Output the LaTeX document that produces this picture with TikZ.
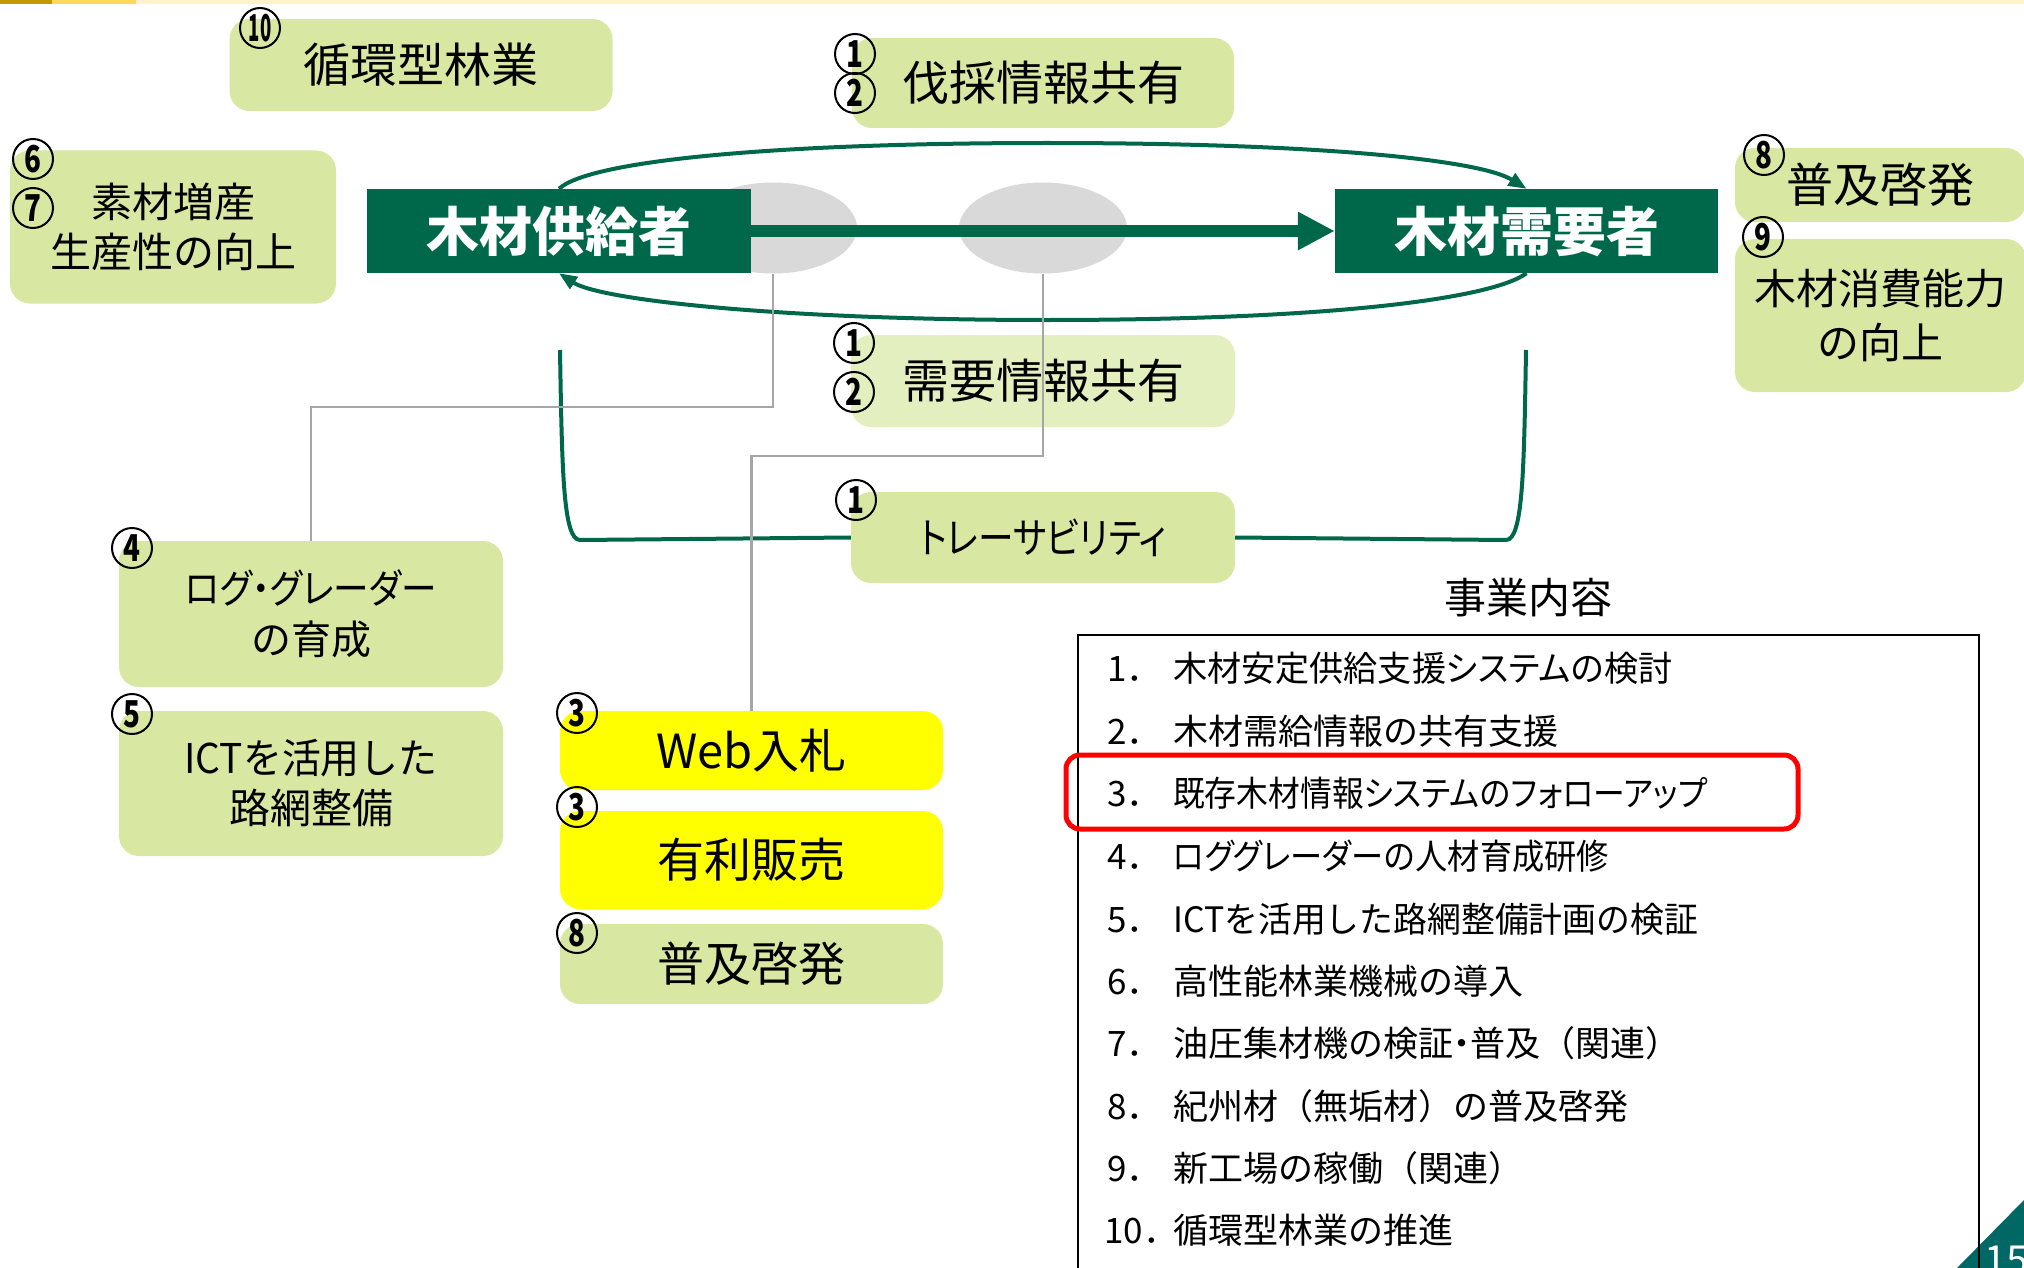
\documentclass[tikz,border=0pt]{standalone}
\usepackage{fontspec}
\usepackage{graphicx}
\setmainfont{Noto Sans CJK JP}
\newfontfamily\jpp[RawFeature=+palt]{Noto Sans CJK JP}
\usetikzlibrary{arrows.meta,shapes.geometric}
\definecolor{dg}{RGB}{0,104,74}
\definecolor{boxg}{RGB}{216,231,161}
\definecolor{boxl}{RGB}{227,239,190}
\definecolor{lgrey}{RGB}{217,217,217}
\definecolor{lineg}{RGB}{166,166,166}
\definecolor{teal2}{RGB}{0,104,100}
\definecolor{gold1}{RGB}{196,152,0}
\definecolor{gold2}{RGB}{255,216,92}
\definecolor{gold3}{RGB}{255,242,204}
\definecolor{yel}{RGB}{255,255,0}
\newcommand{\cnum}[2][0.75]{\scalebox{#1}[1]{#2}}
\begin{document}
\begin{tikzpicture}[x=1pt,y=-1pt]
\tikzset{
  gb/.style={fill=boxg, rounded corners=20, inner sep=0, align=center, text=black},
  yb/.style={gb, fill=yel},
  hdr/.style={fill=dg, inner sep=0, text=white, font=\fontsize{53}{60}\selectfont\bfseries},
  cn/.style={circle, draw=black, line width=2, minimum size=40, inner sep=0, font=\fontsize{37}{37}\selectfont\bfseries},
  arcline/.style={draw=dg, line width=4},
  greyline/.style={draw=lineg, line width=2.5},
  fbig/.style={font=\fontsize{47}{56}\selectfont},
  fmid/.style={font=\fontsize{41}{50}\selectfont},
  litem/.style={anchor=base west, inner sep=0, font=\fontsize{35}{40}\selectfont},
}
\useasboundingbox (0,0) rectangle (2024,1268);
\clip (0,0) rectangle (2024,1268);
\fill[white] (0,0) rectangle (2024,1268);
% top bar
\fill[gold3] (136,0) rectangle (2024,4);
\fill[gold2] (52,0) rectangle (136,4);
\fill[gold1] (0,0) rectangle (52,4);

% grey ellipses
\node[ellipse, fill=lgrey, minimum width=168, minimum height=91, inner sep=0] (e1) at (773,228) {};
\node[ellipse, fill=lgrey, minimum width=168, minimum height=91, inner sep=0] (e2) at (1043,228) {};

% header boxes
\node[hdr, minimum width=384, minimum height=84] (sup) at (559,231) {木材供給者};
\node[hdr, minimum width=383, minimum height=84] (dem) at (1526.5,231) {木材需要者};

% main arrow
\draw[dg, line width=12, -{Triangle[length=37pt,width=36pt]}] (sup.east) -- (dem.west);

% arcs
\draw[arcline, -{Triangle[length=18pt,width=14pt]}] (sup.north) .. controls (590,160) and (780,143) .. (1047,143) .. controls (1320,143) and (1480,160) .. (dem.north);
\draw[arcline, -{Triangle[length=18pt,width=14pt]}] (dem.south) .. controls (1490,300) and (1320,320) .. (1047,320) .. controls (780,320) and (600,300) .. (sup.south);

% green boxes
\node[gb, fbig, minimum width=383, minimum height=92] (jun) at (421,65) {循環型林業};
\node[gb, fmid, minimum width=326, minimum height=153] (sozai) at (173,227) {素材増産\\生産性の向上};
\node[gb, fbig, minimum width=382, minimum height=90] (bassai) at (1043,83) {伐採情報共有};
\node[gb, fbig, fill=boxl, minimum width=384, minimum height=92] (juyo) at (1043,381) {需要情報共有};
\node[gb, font=\fontsize{42}{50}\selectfont\jpp, minimum width=384, minimum height=91] (trace) at (1043,537.5) {\scalebox{0.85}[1]{トレーサビリティ}};
\node[gb, fbig, minimum width=291, minimum height=74] (fukyu) at (1880.5,185) {普及啓発};
\node[gb, font=\fontsize{42}{54}\selectfont, minimum width=291, minimum height=153] (shohi) at (1880.5,315.5) {木材消費能力\\の向上};
\node[gb, font=\fontsize{40}{51}\selectfont, minimum width=384, minimum height=146] (log) at (311,614) {{\jpp\scalebox{0.89}[1]{ログ・グレーダー}}\\の育成};
\node[gb, fmid, minimum width=384, minimum height=145] (ict) at (311,783.5) {\scalebox{0.95}[1]{ICTを活用した}\\路網整備};
\node[yb, fbig, minimum width=383, minimum height=79] (web) at (751.5,750.5) {Web入札};
\node[yb, fbig, minimum width=383, minimum height=98] (yuri) at (751.5,860) {有利販売};
\node[gb, fbig, minimum width=383, minimum height=80] (fukyu2) at (751.5,964) {普及啓発};

% green bracket
\coordinate (bl) at (560,350);
\coordinate (br) at (1526,350);
\draw[arcline] (bl) .. controls (562,470) and (563,540) .. (580,540) -- (trace.west);
\draw[arcline] (trace.east) -- (1506,540) .. controls (1523,540) and (1524,470) .. (br);

% grey connectors
\coordinate (g1) at (311,407);
\coordinate (g2) at (751.5,456);
\draw[greyline] (e1.south) |- (g1) -- (log.north);
\draw[greyline] (e2.south) |- (g2) -- (web.north);

% circled numbers
\node[cn] (c10) at (260,28) {\cnum[0.5]{10}};
\node[cn] (c6) at (33,159) {\cnum{6}};
\node[cn] (c7) at (33,208) {\cnum{7}};
\node[cn] (c1a) at (855,54) {\cnum{1}};
\node[cn] (c2a) at (855,93) {\cnum{2}};
\node[cn] (c1b) at (854,343) {\cnum{1}};
\node[cn] (c2b) at (854,392) {\cnum{2}};
\node[cn] (c1c) at (856,500) {\cnum{1}};
\node[cn] (c8a) at (1764,155) {\cnum{8}};
\node[cn] (c9) at (1763,237) {\cnum{9}};
\node[cn] (c4) at (132,548) {\cnum{4}};
\node[cn] (c5) at (132,714) {\cnum{5}};
\node[cn] (c3a) at (577,713) {\cnum{3}};
\node[cn] (c3b) at (577,807) {\cnum{3}};
\node[cn] (c8b) at (577,933) {\cnum{8}};

% page number
\fill[teal2] (1957,1268) -- (2024,1200) -- (2024,1268) -- cycle;
\node[anchor=base west, text=white, inner sep=0, font=\fontsize{40}{40}\selectfont] (pg) at (1984,1274) {15};

% list
\node[font=\fontsize{42}{42}\selectfont, inner sep=0] (title) at (1528,598) {事業内容};
\draw[line width=2.5, black] (1078,635) rectangle (1979,1300);
\draw[red, line width=5, rounded corners=14] (1066,755) rectangle (1798,829);

\node[litem] (n1) at (1107,681) {1．};
\node[litem] (t1) at (1173,681) {\scalebox{0.975}[1]{木材安定供給支援{\jpp システム}の検討}};
\node[litem] (n2) at (1107,744) {2．};
\node[litem] (t2) at (1173,744) {木材需給情報の共有支援};
\node[litem] (n3) at (1107,806) {3．};
\node[litem] (t3) at (1173,806) {\scalebox{0.908}[1]{既存木材情報{\jpp システム}の{\jpp フォローアップ}}};
\node[litem] (n4) at (1107,869) {4．};
\node[litem] (t4) at (1173,869) {\scalebox{0.92}[1]{{\jpp ロググレーダー}の人材育成研修}};
\node[litem] (n5) at (1107,932) {5．};
\node[litem] (t5) at (1173,932) {\scalebox{0.967}[1]{ICTを活用した路網整備計画の検証}};
\node[litem] (n6) at (1107,994) {6．};
\node[litem] (t6) at (1173,994) {高性能林業機械の導入};
\node[litem] (n7) at (1107,1056) {7．};
\node[litem] (t7) at (1173,1056) {油圧集材機の検証{\jpp ・}普及（関連）};
\node[litem] (n8) at (1107,1119) {8．};
\node[litem] (t8) at (1173,1119) {紀州材（無垢材）の普及啓発};
\node[litem] (n9) at (1107,1181) {9．};
\node[litem] (t9) at (1173,1181) {新工場の稼働（関連）};
\node[litem] (n10) at (1104,1243) {10．};
\node[litem] (t10) at (1173,1243) {循環型林業の推進};
\end{tikzpicture}
\end{document}
